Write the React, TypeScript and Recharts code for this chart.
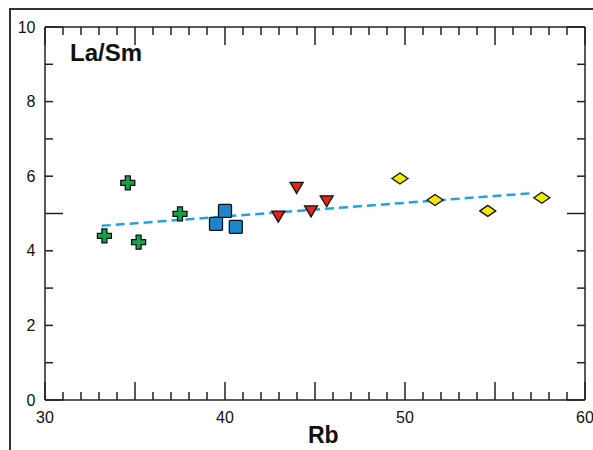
import React from "react";
import { ScatterChart, Scatter, XAxis, YAxis } from "recharts";

// Rb vs La/Sm, one array per sample group
const groupA = [
  { rb: 33.3, lasm: 4.4 },
  { rb: 34.6, lasm: 5.82 },
  { rb: 35.2, lasm: 4.23 },
  { rb: 37.5, lasm: 4.99 },
];
const groupB = [
  { rb: 39.5, lasm: 4.72 },
  { rb: 40.0, lasm: 5.07 },
  { rb: 40.6, lasm: 4.64 },
];
const groupC = [
  { rb: 42.96, lasm: 4.93 },
  { rb: 43.98, lasm: 5.7 },
  { rb: 44.78, lasm: 5.07 },
  { rb: 45.65, lasm: 5.34 },
];
const groupD = [
  { rb: 49.72, lasm: 5.94 },
  { rb: 51.67, lasm: 5.36 },
  { rb: 54.6, lasm: 5.07 },
  { rb: 57.6, lasm: 5.42 },
];
const trend = [
  { rb: 33.15, lasm: 4.67 },
  { rb: 57.2, lasm: 5.55 },
];

const xTicks = [30, 31, 32, 33, 34, 35, 36, 37, 38, 39, 40, 41, 42, 43, 44, 45, 46, 47, 48, 49, 50, 51, 52, 53, 54, 55, 56, 57, 58, 59, 60];
const yTicks = [0, 1, 2, 3, 4, 5, 6, 7, 8, 9, 10];

const INK = "#222";
const FONT = "'Liberation Sans', Arial, Helvetica, sans-serif";

const BottomTick = ({ x, y, payload }: any) => {
  const v = payload.value;
  const len = v % 5 === 0 ? 18 : 8;
  return (
    <g>
      <line x1={x} y1={y} x2={x} y2={y - len} stroke={INK} strokeWidth={1.5} />
      {v % 10 === 0 && (
        <text x={x} y={y + 23} textAnchor="middle" fontSize={16} fill="#111" fontFamily={FONT}>
          {v}
        </text>
      )}
    </g>
  );
};

const TopTick = ({ x, y, payload }: any) => {
  const len = payload.value % 5 === 0 ? 18 : 8;
  return <line x1={x} y1={y} x2={x} y2={y + len} stroke={INK} strokeWidth={1.5} />;
};

const LeftTick = ({ x, y, payload }: any) => {
  const v = payload.value;
  const len = v % 5 === 0 ? 18 : 8;
  return (
    <g>
      <line x1={x} y1={y} x2={x + len} y2={y} stroke={INK} strokeWidth={1.5} />
      {v % 2 === 0 && (
        <text x={x - 9.5} y={y + 5.5} textAnchor="end" fontSize={16} fill="#111" fontFamily={FONT}>
          {v}
        </text>
      )}
    </g>
  );
};

const RightTick = ({ x, y, payload }: any) => {
  const len = payload.value % 5 === 0 ? 18 : 8;
  return <line x1={x} y1={y} x2={x - len} y2={y} stroke={INK} strokeWidth={1.5} />;
};

const Cross = ({ cx, cy }: any) => {
  const a = 7;
  const b = 2.5;
  const d = `M${cx - b},${cy - a} H${cx + b} V${cy - b} H${cx + a} V${cy + b} H${cx + b} V${cy + a} H${cx - b} V${cy + b} H${cx - a} V${cy - b} H${cx - b} Z`;
  return <path d={d} fill="#17a04c" stroke="#111" strokeWidth={1.3} />;
};

const Square = ({ cx, cy }: any) => (
  <rect x={cx - 6.5} y={cy - 6.5} width={13} height={13} rx={1} fill="#1c86cc" stroke="#111" strokeWidth={1.3} />
);

const TriDown = ({ cx, cy }: any) => (
  <path d={`M${cx - 6.5},${cy - 5} L${cx + 6.5},${cy - 5} L${cx},${cy + 6} Z`} fill="#e4221e" stroke="#111" strokeWidth={1.3} />
);

const Diamond = ({ cx, cy }: any) => (
  <path d={`M${cx - 8},${cy} L${cx},${cy - 5.5} L${cx + 8},${cy} L${cx},${cy + 5.5} Z`} fill="#f6e900" stroke="#111" strokeWidth={1.3} />
);

export default function App() {
  return (
    <div style={{ position: "absolute", left: 0, top: 0, width: 593, height: 450, overflow: "hidden", background: "#fff" }}>
      <div
        style={{
          position: "absolute",
          left: 9,
          top: 8,
          width: 700,
          height: 600,
          border: "2px solid #333",
        }}
      />
      <ScatterChart width={593} height={450} margin={{ top: 26, right: 7, bottom: 0, left: 0 }} style={{ position: "absolute", left: 0, top: 0 }}>
        <XAxis
          type="number"
          dataKey="rb"
          domain={[30, 60]}
          ticks={xTicks}
          interval={0}
          height={50}
          tickSize={0}
          tickMargin={0}
          tickLine={false}
          axisLine={{ stroke: INK, strokeWidth: 1.5 }}
          tick={<BottomTick />}
          allowDataOverflow
        />
        <XAxis
          xAxisId="top"
          orientation="top"
          type="number"
          dataKey="rb"
          domain={[30, 60]}
          ticks={xTicks}
          interval={0}
          height={1}
          tickSize={0}
          tickMargin={0}
          tickLine={false}
          axisLine={{ stroke: INK, strokeWidth: 1.5 }}
          tick={<TopTick />}
          allowDataOverflow
        />
        <YAxis
          type="number"
          dataKey="lasm"
          domain={[0, 10]}
          ticks={yTicks}
          interval={0}
          width={45}
          tickSize={0}
          tickMargin={0}
          tickLine={false}
          axisLine={{ stroke: INK, strokeWidth: 1.5 }}
          tick={<LeftTick />}
          allowDataOverflow
        />
        <YAxis
          yAxisId="right"
          orientation="right"
          type="number"
          dataKey="lasm"
          domain={[0, 10]}
          ticks={yTicks}
          interval={0}
          width={1}
          tickSize={0}
          tickMargin={0}
          tickLine={false}
          axisLine={{ stroke: INK, strokeWidth: 1.5 }}
          tick={<RightTick />}
          allowDataOverflow
        />
        {/* invisible series so the mirrored top/right axes get drawn */}
        <Scatter data={trend} xAxisId="top" yAxisId="right" shape={() => null} isAnimationActive={false} />
        <Scatter
          data={trend}
          line={{ stroke: "#2a9fdc", strokeWidth: 2.5, strokeDasharray: "9 5" }}
          shape={() => null}
          isAnimationActive={false}
        />
        <Scatter data={groupA} shape={<Cross />} isAnimationActive={false} />
        <Scatter data={groupB} shape={<Square />} isAnimationActive={false} />
        <Scatter data={groupC} shape={<TriDown />} isAnimationActive={false} />
        <Scatter data={groupD} shape={<Diamond />} isAnimationActive={false} />
      </ScatterChart>
      <div style={{ position: "absolute", left: 70, top: 41, lineHeight: 1, fontFamily: FONT, fontWeight: "bold", fontSize: 24, color: "#111" }}>
        La/Sm
      </div>
      <div style={{ position: "absolute", left: 308, top: 422, fontFamily: FONT, fontWeight: "bold", fontSize: 23, color: "#111" }}>
        Rb
      </div>
    </div>
  );
}
